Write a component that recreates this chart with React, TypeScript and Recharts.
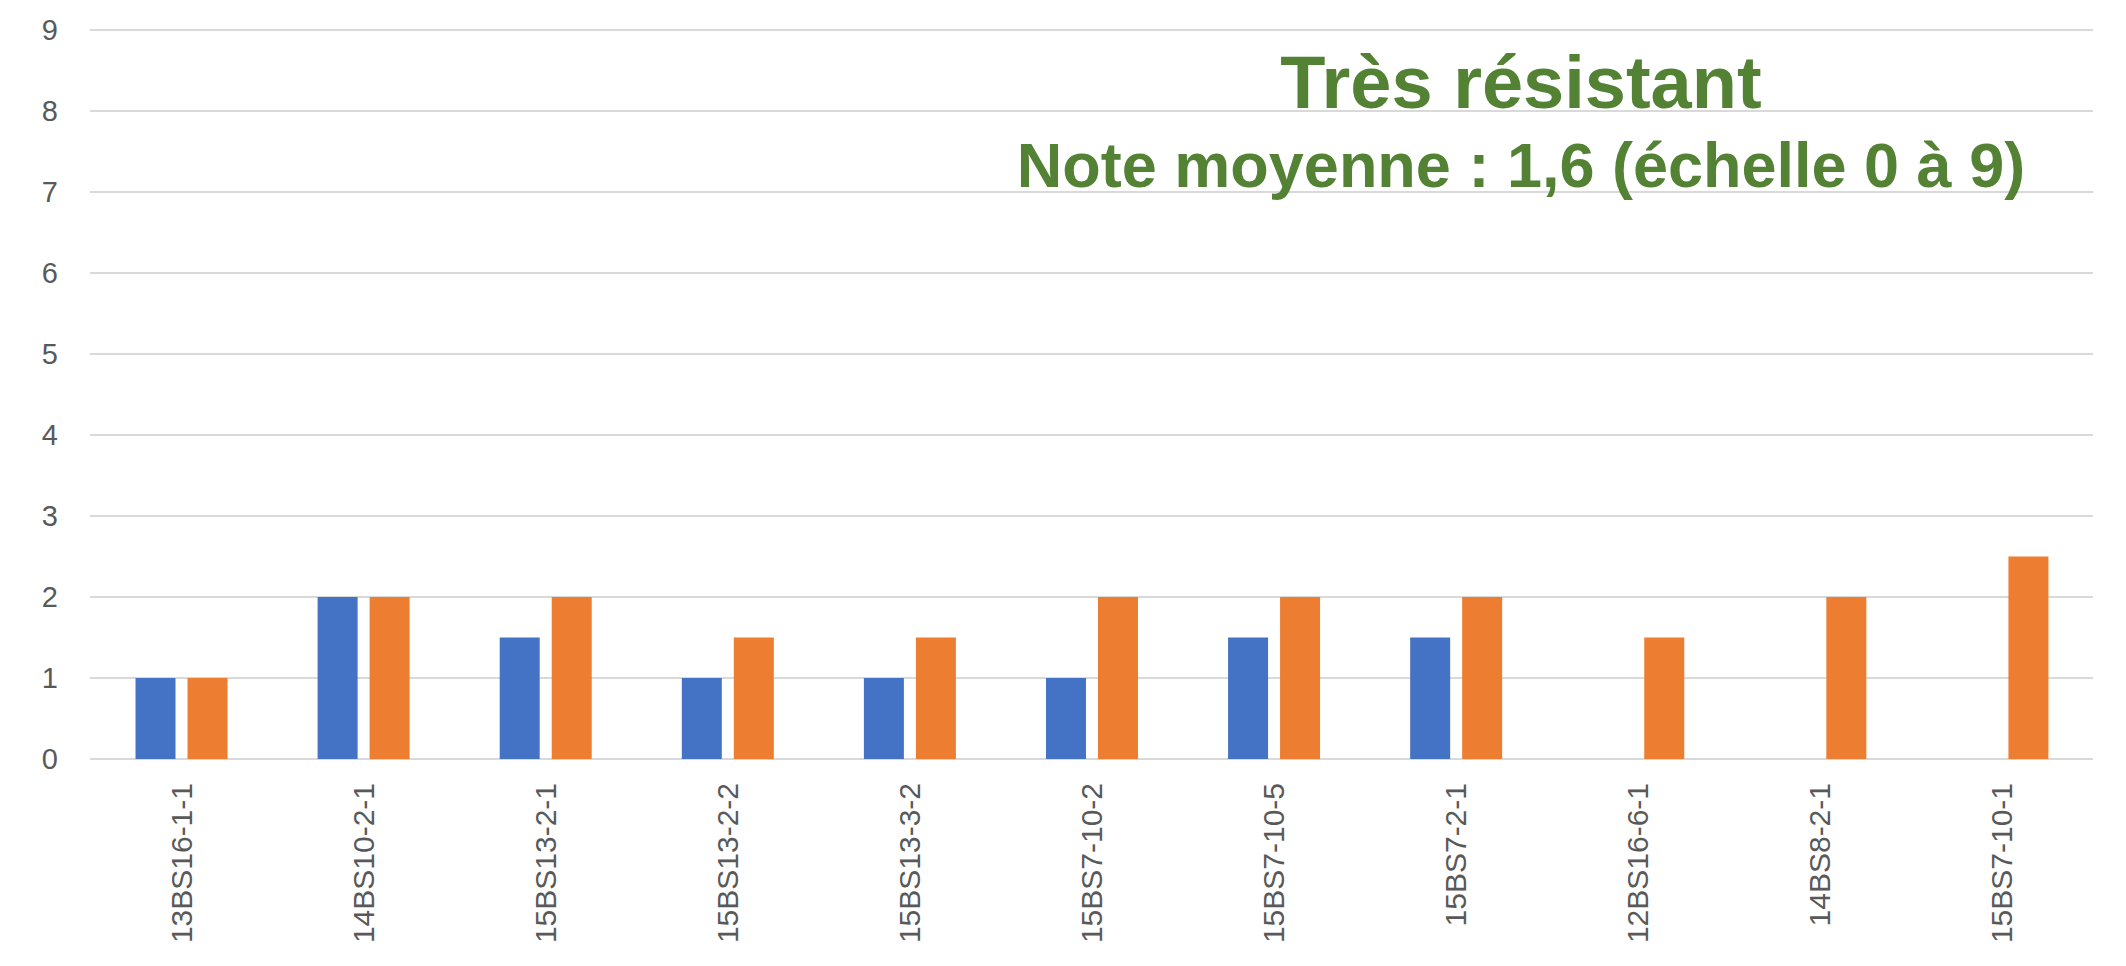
import React from 'react';
import { BarChart, Bar, XAxis, YAxis, CartesianGrid } from 'recharts';

const categories = [
  '13BS16-1-1', '14BS10-2-1', '15BS13-2-1', '15BS13-2-2', '15BS13-3-2', '15BS7-10-2',
  '15BS7-10-5', '15BS7-2-1', '12BS16-6-1', '14BS8-2-1', '15BS7-10-1',
];
const seriesA: (number | null)[] = [1, 2, 1.5, 1, 1, 1, 1.5, 1.5, null, null, null];
const seriesB: number[] = [1, 2, 2, 1.5, 1.5, 2, 2, 2, 1.5, 2, 2.5];
const yTicks = [0, 1, 2, 3, 4, 5, 6, 7, 8, 9];
const title = 'Très résistant';
const subtitle = 'Note moyenne : 1,6 (échelle 0 à 9)';

const data = categories.map((c, i) => ({ name: c, a: seriesA[i], b: seriesB[i] }));

const FONT = '"Liberation Sans", Arial, sans-serif';

const XTick = (props: any) => {
  const { x, y, payload } = props;
  const ty = y + 24;
  return (
    <text
      x={x}
      y={ty}
      transform={`rotate(-90, ${x}, ${ty})`}
      textAnchor="end"
      dominantBaseline="central"
      fill="#595959"
      fontSize={30}
      fontFamily={FONT}
    >
      {payload.value}
    </text>
  );
};

export default function App() {
  return (
    <div style={{ position: 'absolute', left: 0, top: 0, width: 2126, height: 966, background: '#fff' }}>
      <BarChart
        width={2126}
        height={966}
        data={data}
        margin={{ top: 30, right: 33, left: 0, bottom: 0 }}
        barCategoryGap="25%"
        barGap={12}
      >
        <CartesianGrid vertical={false} stroke="#D9D9D9" strokeWidth={2} />
        <XAxis
          dataKey="name"
          axisLine={false}
          tickLine={false}
          tickSize={0}
          tickMargin={0}
          height={207}
          interval={0}
          tick={<XTick />}
        />
        <YAxis
          domain={[0, 9]}
          ticks={yTicks}
          axisLine={false}
          tickLine={false}
          tickSize={0}
          tickMargin={32}
          width={90}
          tick={{ fill: '#595959', fontSize: 29, fontFamily: FONT }}
        />
        <Bar dataKey="a" fill="#4472C4" isAnimationActive={false} />
        <Bar dataKey="b" fill="#ED7D31" isAnimationActive={false} />
      </BarChart>
      <svg
        width={2126}
        height={966}
        style={{ position: 'absolute', left: 0, top: 0, pointerEvents: 'none' }}
      >
        <text x={1521} y={108} textAnchor="middle" fill="#548235" fontSize={74} fontWeight="bold" fontFamily={FONT}>
          {title}
        </text>
        <text x={1521} y={187} textAnchor="middle" fill="#548235" fontSize={63} fontWeight="bold" fontFamily={FONT}>
          {subtitle}
        </text>
      </svg>
    </div>
  );
}
